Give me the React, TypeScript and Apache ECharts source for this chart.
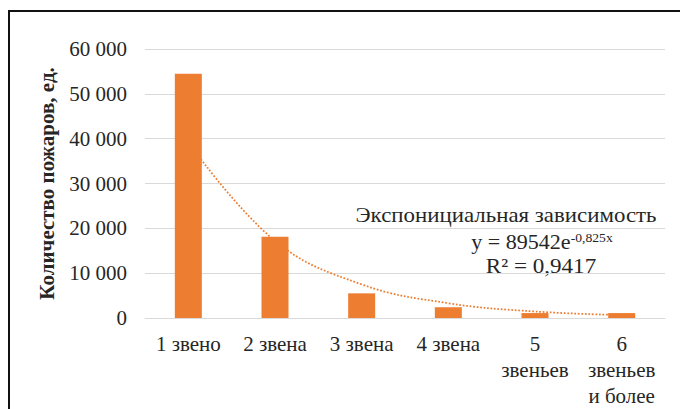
import React, { useEffect, useRef } from "react";
import * as echarts from "echarts";

const categories = ["1 звено", "2 звена", "3 звена", "4 звена", "5\nзвеньев", "6\nзвеньев\nи более"];
const fires = [54500, 18100, 5500, 2400, 1100, 1100];
const trend = [39200, 17200, 7500, 3300, 1450, 640];
const yTicks = [0, 10000, 20000, 30000, 40000, 50000, 60000];
const yAxisTitle = "Количество пожаров, ед.";
const trendTitle = "Экспонициальная зависимость";
const trendEq = "y = 89542e";
const trendExp = "-0,825x";
const trendR2 = "R² = 0,9417";

const FONT = "Liberation Serif";
const ORANGE = "#ED7D31";
const TEXT = "#262626";
const FS = 21;

export default function App() {
  const ref = useRef<HTMLDivElement>(null);
  useEffect(() => {
    if (!ref.current) return;
    const chart = echarts.init(ref.current, null, { renderer: "svg" });
    chart.setOption({
      animation: false,
      backgroundColor: "#fff",
      grid: { left: 145, right: 15, top: 49, bottom: 88, containLabel: false },
      xAxis: {
        type: "category",
        data: categories,
        axisLine: { lineStyle: { color: "#d9d9d9", width: 1 } },
        axisTick: { show: false },
        axisLabel: {
          color: TEXT,
          fontFamily: FONT,
          fontSize: FS,
          lineHeight: 26,
          margin: 13,
          interval: 0,
        },
      },
      yAxis: {
        type: "value",
        min: yTicks[0],
        max: yTicks[yTicks.length - 1],
        interval: 10000,
        name: yAxisTitle,
        nameLocation: "middle",
        nameGap: 88,
        nameTextStyle: { color: TEXT, fontFamily: FONT, fontSize: FS, fontWeight: "bold" },
        axisLine: { show: false },
        axisTick: { show: false },
        splitLine: { lineStyle: { color: "#d9d9d9", width: 1 } },
        axisLabel: {
          color: TEXT,
          fontFamily: FONT,
          fontSize: FS,
          margin: 18,
          formatter: (v: number) => String(v).replace(/\B(?=(\d{3})+(?!\d))/g, " "),
        },
      },
      series: [
        {
          type: "line",
          data: trend,
          smooth: 0.4,
          symbol: "none",
          z: 1,
          lineStyle: { color: ORANGE, width: 1.75, type: [1.75, 1.75] },
        },
        {
          type: "bar",
          data: fires,
          barWidth: 27,
          z: 3,
          itemStyle: { color: ORANGE },
        },
      ],
      graphic: [
        {
          type: "rect",
          shape: { x: 9, y: 11, width: 720, height: 460 },
          style: { fill: "none", stroke: "#111", lineWidth: 2 },
          silent: true,
        },
        {
          type: "text",
          x: 506,
          y: 215,
          scaleX: 1.09,
          style: {
            text: trendTitle,
            fontFamily: FONT,
            fontSize: FS,
            fill: TEXT,
            align: "center",
            verticalAlign: "middle",
          },
        },
        {
          type: "text",
          x: 542,
          y: 242,
          scaleX: 1.05,
          style: {
            text: trendEq + "{sup|" + trendExp + "}",
            fontFamily: FONT,
            fontSize: FS,
            fill: TEXT,
            align: "center",
            verticalAlign: "middle",
            rich: {
              sup: { fontSize: 13, fontFamily: FONT, fill: TEXT, verticalAlign: "top", padding: [0, 0, 9, 0] },
            },
          },
        },
        {
          type: "text",
          x: 541,
          y: 266,
          scaleX: 1.1,
          style: {
            text: trendR2,
            fontFamily: FONT,
            fontSize: FS,
            fill: TEXT,
            align: "center",
            verticalAlign: "middle",
          },
        },
      ],
    });
    return () => chart.dispose();
  }, []);
  return (
    <div
      ref={ref}
      style={{ position: "absolute", left: 0, top: 0, width: 680, height: 409 }}
    />
  );
}
